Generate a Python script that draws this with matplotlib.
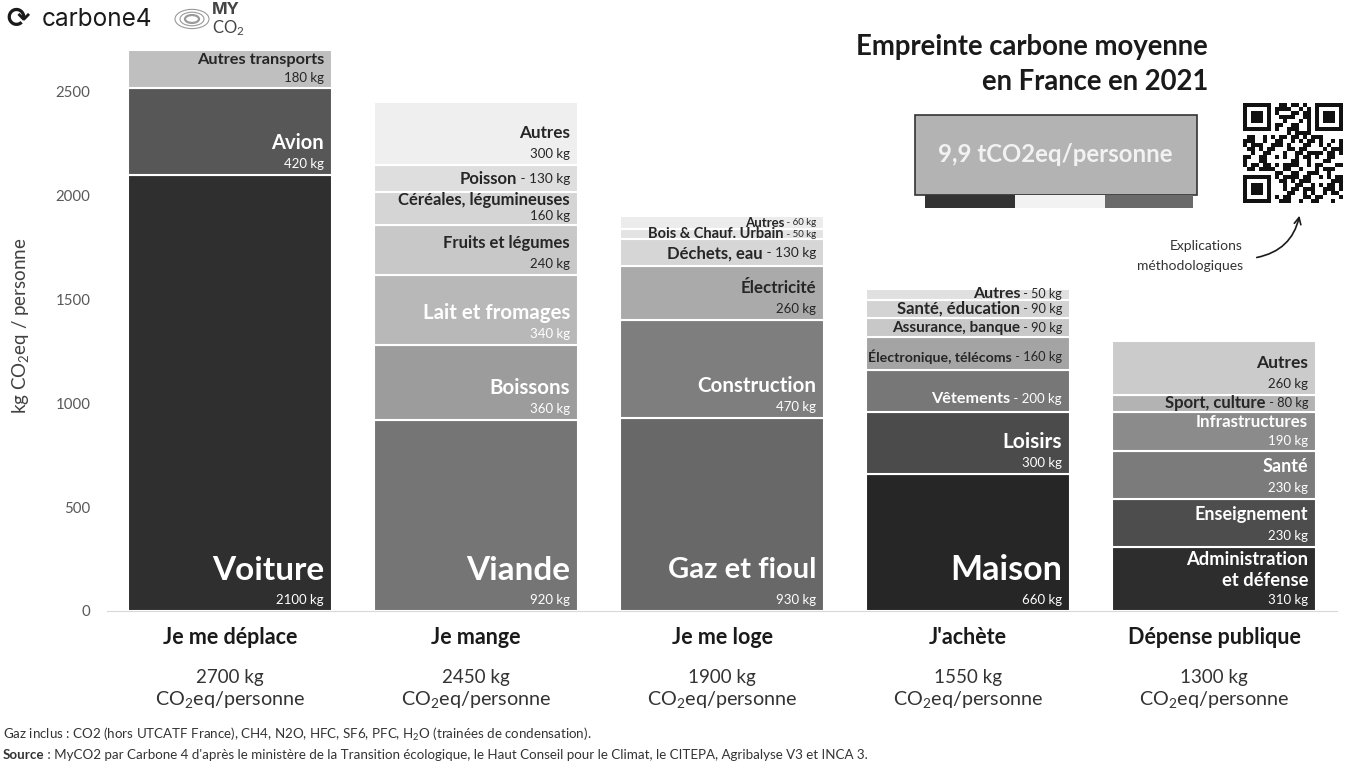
import numpy as np
import matplotlib
matplotlib.use("Agg")
import matplotlib.pyplot as plt
from matplotlib.patches import Rectangle, Circle, FancyArrowPatch

plt.rcParams['font.family'] = ['Lato', 'DejaVu Sans']
plt.rcParams['mathtext.fontset'] = 'custom'
plt.rcParams['mathtext.rm'] = 'Lato'
plt.rcParams['mathtext.it'] = 'Lato:italic'
plt.rcParams['mathtext.bf'] = 'Lato:bold'

W, H = 1346, 762
DARK = "#262626"
WHITE = "#ffffff"

# Data
categories = ["Je me déplace", "Je mange", "Je me loge", "J'achète", "Dépense publique"]
totals = [2700, 2450, 1900, 1550, 1300]

deplace_items = ["Voiture", "Avion", "Autres transports"]
deplace_values = [2100, 420, 180]

mange_items = ["Viande", "Boissons", "Lait et fromages", "Fruits et légumes",
               "Céréales, légumineuses", "Poisson", "Autres"]
mange_values = [920, 360, 340, 240, 160, 130, 300]

loge_items = ["Gaz et fioul", "Construction", "Électricité", "Déchets, eau",
              "Bois & Chauf. Urbain", "Autres"]
loge_values = [930, 470, 260, 130, 50, 60]

achete_items = ["Maison", "Loisirs", "Vêtements", "Électronique, télécoms",
                "Assurance, banque", "Santé, éducation", "Autres"]
achete_values = [660, 300, 200, 160, 90, 90, 50]

public_items = ["Administration\net défense", "Enseignement", "Santé", "Infrastructures",
                "Sport, culture", "Autres"]
public_values = [310, 230, 230, 190, 80, 260]

# Styles: fill colour, label kind, text colour, name font size, value font size
deplace_style = [("#2f2f2f", "big", WHITE, 24, 9.5), ("#575757", "two", WHITE, 14.5, 9.5),
                 ("#bfbfbf", "two", DARK, 11.8, 9.5)]
mange_style = [("#757575", "big", WHITE, 24, 9.5), ("#9c9c9c", "two", WHITE, 14.8, 9.5),
               ("#b8b8b8", "two", WHITE, 14.8, 9.5), ("#c8c8c8", "two", DARK, 12, 9.5),
               ("#d5d5d5", "two", DARK, 12, 9.5), ("#dedede", "inline", DARK, 12, 9.8),
               ("#efefef", "two", DARK, 12.3, 9.5)]
loge_style = [("#686868", "big", WHITE, 21, 9.5), ("#7e7e7e", "two", WHITE, 14.8, 9.5),
              ("#aaaaaa", "two", DARK, 12.2, 9.5), ("#d6d6d6", "inline", DARK, 12, 9.8),
              ("#e3e3e3", "inline", DARK, 10.5, 7), ("#ececec", "inline", DARK, 9.5, 7)]
achete_style = [("#262626", "big", WHITE, 24.5, 9.5), ("#4b4b4b", "two", WHITE, 15, 9.5),
                ("#777777", "inline", WHITE, 11.7, 9.5), ("#a4a4a4", "inline", DARK, 10.2, 9.3),
                ("#c8c8c8", "inline", DARK, 11, 9.3), ("#d3d3d3", "inline", DARK, 12, 9.3),
                ("#e0e0e0", "inline", DARK, 11.5, 9)]
public_style = [("#2d2d2d", "two", WHITE, 13.2, 9.5), ("#4d4d4d", "two", WHITE, 13, 9.5),
                ("#7b7b7b", "two", WHITE, 13, 9.5), ("#8b8b8b", "two", WHITE, 12.2, 9.5),
                ("#b3b3b3", "inline", DARK, 12, 9.3), ("#cbcbcb", "two", DARK, 12.5, 9.5)]

groups = [(deplace_items, deplace_values, deplace_style),
          (mange_items, mange_values, mange_style),
          (loge_items, loge_values, loge_style),
          (achete_items, achete_values, achete_style),
          (public_items, public_values, public_style)]

YMAX = 2750
AX_H = 571
BAR_W = 0.83


def fx(x):
    return x / W


def fy(y):
    return 1 - y / H


fig = plt.figure(figsize=(W / 100, H / 100), dpi=100)
ax = fig.add_axes([fx(107), 151 / H, 1230 / W, AX_H / H])
ax.set_xlim(-0.5, 4.5)
ax.set_ylim(0, YMAX)
for s in ["top", "right", "left"]:
    ax.spines[s].set_visible(False)
ax.spines["bottom"].set_color("#d9d9d9")
ax.set_xticks([])
ax.set_yticks([0, 500, 1000, 1500, 2000, 2500])
ax.tick_params(axis="y", length=0, pad=12, labelsize=10.8, labelcolor="#595959")
ax.set_ylabel("kg CO$_2$eq / personne", fontsize=13.5, color="#404040")
ax.yaxis.set_label_coords(-0.062, 0.5)

renderer = fig.canvas.get_renderer()
px_per_unit = AX_H / YMAX

for i, (items, values, style) in enumerate(groups):
    bottom = 0
    for name, v, (col, kind, tcol, fs, vfs) in zip(items, values, style):
        ax.bar(i, v, bottom=bottom, width=BAR_W, color=col, edgecolor="white", linewidth=1.5)
        h = v * px_per_unit
        anchor = (i + BAR_W / 2, bottom)
        if kind == "big":
            ax.annotate(name, anchor, xytext=(-8, 41), textcoords="offset pixels",
                        ha="right", va="center", fontsize=fs, fontweight="bold", color=tcol)
            ax.annotate(f"{v} kg", anchor, xytext=(-8, 11), textcoords="offset pixels",
                        ha="right", va="center", fontsize=vfs, color=tcol)
        elif kind == "two":
            voff = min(11, h * 0.25)
            noff = voff + (30 if "\n" in name else min(21, h * 0.5))
            ax.annotate(name, anchor, xytext=(-8, noff), textcoords="offset pixels",
                        ha="right", va="center", fontsize=fs, fontweight="bold",
                        color=tcol, linespacing=1.35)
            ax.annotate(f"{v} kg", anchor, xytext=(-8, voff), textcoords="offset pixels",
                        ha="right", va="center", fontsize=vfs, color=tcol)
        else:
            off = min(h / 2, 13)
            t = ax.annotate(f" - {v} kg", anchor, xytext=(-8, off), textcoords="offset pixels",
                            ha="right", va="center", fontsize=vfs, color=tcol)
            tw = t.get_window_extent(renderer).width
            ax.annotate(name, anchor, xytext=(-8 - tw, off), textcoords="offset pixels",
                        ha="right", va="center", fontsize=fs, fontweight="bold", color=tcol)
        bottom += v

    ax.annotate(categories[i], (i, 0), xytext=(0, -26), textcoords="offset pixels",
                ha="center", va="center", fontsize=15.5, fontweight="bold", color="#1a1a1a",
                annotation_clip=False)
    ax.annotate(f"{totals[i]} kg", (i, 0), xytext=(0, -66), textcoords="offset pixels",
                ha="center", va="center", fontsize=13.5, color="#333333", annotation_clip=False)
    ax.annotate("CO$_2$eq/personne", (i, 0), xytext=(0, -89), textcoords="offset pixels",
                ha="center", va="center", fontsize=14.2, color="#333333", annotation_clip=False)

# Title block
fig.text(fx(1208), fy(47), "Empreinte carbone moyenne", ha="right", va="center",
         fontsize=19.8, fontweight="bold", color="#1a1a1a")
fig.text(fx(1208), fy(82), "en France en 2021", ha="right", va="center",
         fontsize=19.8, fontweight="bold", color="#1a1a1a")

fig.add_artist(Rectangle((fx(915), fy(195)), fx(282), 80 / H, transform=fig.transFigure,
                         facecolor="#b3b3b3", edgecolor="#333333", linewidth=1.2))
fig.text(fx(1055), fy(155), "9,9 tCO2eq/personne", ha="center", va="center",
         fontsize=17.3, fontweight="bold", color="#f2f2f2")
for x0, x1, c in [(925, 1015, "#333333"), (1015, 1105, "#f2f2f2"), (1105, 1193, "#6a6a6a")]:
    fig.add_artist(Rectangle((fx(x0), fy(208)), fx(x1 - x0), 13 / H,
                             transform=fig.transFigure, facecolor=c, edgecolor="none"))

# QR code stand-in
qr_bits = np.unpackbits(np.frombuffer(("myco2.fr/empreinte-carbone-2021" * 3).encode(), dtype=np.uint8))
n, cell, qx, qy = 25, 4, 1243, 103
k = 0
for r in range(n):
    for c in range(n):
        in_finder = (r < 8 and c < 8) or (r < 8 and c >= n - 8) or (r >= n - 8 and c < 8)
        if in_finder:
            continue
        if qr_bits[k % len(qr_bits)]:
            fig.add_artist(Rectangle((fx(qx + c * cell), fy(qy + (r + 1) * cell)), fx(cell), cell / H,
                                     transform=fig.transFigure, facecolor="#111111", edgecolor="none"))
        k += 1
for r0, c0 in [(0, 0), (0, n - 7), (n - 7, 0)]:
    for size, col in [(7, "#111111"), (5, "white"), (3, "#111111")]:
        off = (7 - size) / 2
        fig.add_artist(Rectangle((fx(qx + (c0 + off) * cell), fy(qy + (r0 + off + size) * cell)),
                                 fx(size * cell), size * cell / H, transform=fig.transFigure,
                                 facecolor=col, edgecolor="none"))

fig.text(fx(1243), fy(246), "Explications", ha="right", va="center", fontsize=10, color="#333333")
fig.text(fx(1243), fy(266), "méthodologiques", ha="right", va="center", fontsize=10, color="#333333")
fig.add_artist(FancyArrowPatch((fx(1254), fy(258)), (fx(1300), fy(213)), transform=fig.transFigure,
                               connectionstyle="arc3,rad=0.35", arrowstyle="->", mutation_scale=12,
                               color="#1a1a1a", linewidth=1.2))

# Logos
fig.text(fx(6), fy(19), "⟳", ha="left", va="center", fontsize=20, color="#1a1a1a",
         family="DejaVu Sans", fontweight="bold")
fig.text(fx(42), fy(19), "carbone4", ha="left", va="center", fontsize=17.5, color="#1a1a1a",
         family="Inter")
for rad, lw in [(17, 0.8), (12, 0.8), (7, 1.6)]:
    fig.add_artist(Circle((fx(192), fy(19)), rad / W, transform=fig.transFigure, fill=False,
                          edgecolor="#9a9a9a", linewidth=lw))
fig.text(fx(212), fy(10), "MY", ha="left", va="center", fontsize=12, color="#444444",
         family="Inter", fontweight="bold")
fig.text(fx(212), fy(28), "CO$_2$", ha="left", va="center", fontsize=12, color="#444444")

# Footer
fig.text(fx(3), fy(734), "Gaz inclus : CO2 (hors UTCATF France), CH4, N2O, HFC, SF6, PFC, H$_2$O (trainées de condensation).",
         ha="left", va="center", fontsize=9.6, color="#333333")
src = fig.text(fx(3), fy(755), "Source", ha="left", va="center", fontsize=9.6, fontweight="bold",
               color="#333333")
sw = src.get_window_extent(renderer).width
fig.text(fx(3 + sw), fy(755), " : MyCO2 par Carbone 4 d'après le ministère de la Transition écologique, le Haut Conseil pour le Climat, le CITEPA, Agribalyse V3 et INCA 3.",
         ha="left", va="center", fontsize=9.6, color="#333333")

fig.savefig("out.png", dpi=100)
